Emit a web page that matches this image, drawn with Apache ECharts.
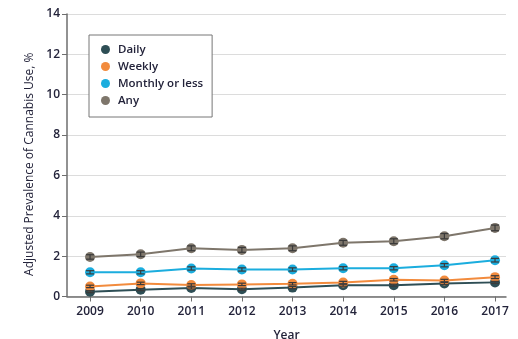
<!DOCTYPE html>
<html>
<head>
<meta charset="utf-8">
<script src="https://cdn.jsdelivr.net/npm/echarts@6/dist/echarts.min.js"></script>
<style>
  html, body { margin: 0; padding: 0; background: #fff; }
  #chart { width: 518px; height: 339px; }
</style>
</head>
<body>
<div id="chart"></div>
<script>
// Survey years
const years = [2009, 2010, 2011, 2012, 2013, 2014, 2015, 2016, 2017];

// Adjusted prevalence of cannabis use, %
const daily   = [0.24, 0.34, 0.42, 0.36, 0.44, 0.56, 0.56, 0.65, 0.70];
const weekly  = [0.50, 0.65, 0.57, 0.60, 0.63, 0.69, 0.83, 0.79, 0.96];
const monthly = [1.20, 1.20, 1.39, 1.34, 1.34, 1.40, 1.40, 1.55, 1.80];
const anyUse  = [1.96, 2.09, 2.39, 2.31, 2.39, 2.66, 2.74, 2.99, 3.40];

// Half-width of the 95% CI for each point
const dailyErr   = [0.05, 0.05, 0.05, 0.05, 0.05, 0.05, 0.05, 0.05, 0.05];
const weeklyErr  = [0.06, 0.06, 0.06, 0.06, 0.06, 0.06, 0.06, 0.06, 0.07];
const monthlyErr = [0.08, 0.08, 0.08, 0.08, 0.08, 0.08, 0.08, 0.08, 0.09];
const anyErr     = [0.11, 0.11, 0.12, 0.12, 0.12, 0.12, 0.12, 0.13, 0.14];

const yTicks = [0, 2, 4, 6, 8, 10, 12, 14];

const seriesDefs = [
  { name: 'Daily',             values: daily,   err: dailyErr,   color: '#2e4e55' },
  { name: 'Weekly',            values: weekly,  err: weeklyErr,  color: '#f28b3d' },
  { name: 'Monthly or less',   values: monthly, err: monthlyErr, color: '#1badde' },
  { name: 'Any',               values: anyUse,  err: anyErr,     color: '#7e766b' }
];

const textColor = '#23233a';
const font = '"Open Sans", sans-serif';

const series = [];
seriesDefs.forEach(function (s) {
  series.push({
    name: s.name,
    type: 'line',
    data: years.map(function (y, i) { return [y, s.values[i]]; }),
    symbol: 'circle',
    symbolSize: 10,
    itemStyle: { color: s.color },
    lineStyle: { color: s.color, width: 2 },
    z: 3
  });
  // whiskers for the confidence interval
  series.push({
    name: s.name + ' CI',
    type: 'custom',
    data: years.map(function (y, i) { return [y, s.values[i] - s.err[i], s.values[i] + s.err[i]]; }),
    renderItem: function (params, api) {
      const lo = api.coord([api.value(0), api.value(1)]);
      const hi = api.coord([api.value(0), api.value(2)]);
      const w = 4;
      const st = { stroke: '#3a3a3a', lineWidth: 1.2 };
      return {
        type: 'group',
        children: [
          { type: 'line', shape: { x1: lo[0], y1: lo[1], x2: hi[0], y2: hi[1] }, style: st },
          { type: 'line', shape: { x1: lo[0] - w, y1: lo[1], x2: lo[0] + w, y2: lo[1] }, style: st },
          { type: 'line', shape: { x1: hi[0] - w, y1: hi[1], x2: hi[0] + w, y2: hi[1] }, style: st }
        ]
      };
    },
    silent: true,
    z: 4
  });
});

const chart = echarts.init(document.getElementById('chart'), null, { renderer: 'canvas' });
chart.setOption({
  animation: false,
  backgroundColor: '#fff',
  grid: { left: 67, right: 12, top: 14, bottom: 42.5, outerBoundsMode: 'none', containLabel: false },
  legend: {
    data: seriesDefs.map(function (s) { return s.name; }),
    orient: 'vertical',
    left: 89,
    top: 35,
    icon: 'circle',
    itemWidth: 9,
    itemHeight: 9,
    itemGap: 4,
    padding: [8, 9, 10, 12],
    backgroundColor: '#fff',
    borderColor: '#777',
    borderWidth: 1,
    textStyle: { color: textColor, fontFamily: font, fontSize: 11.5, fontWeight: 600, lineHeight: 13,
                 padding: [0, 0, 0, 3] }
  },
  xAxis: {
    type: 'value',
    min: 2008.545,
    max: 2017.217,
    name: 'Year',
    nameLocation: 'middle',
    nameGap: 33,
    nameTextStyle: { color: textColor, fontFamily: font, fontSize: 12, fontWeight: 600 },
    axisLine: { show: true, onZero: false, lineStyle: { color: '#6e6e6e', width: 1.5 } },
    axisTick: { show: true, length: 5, customValues: years, lineStyle: { color: '#6e6e6e' } },
    axisLabel: { customValues: years, color: textColor, fontFamily: font, fontSize: 12, fontWeight: 600, margin: 9,
                 formatter: function (v) { return String(v); } },
    splitLine: { show: false }
  },
  yAxis: {
    type: 'value',
    min: 0,
    max: 14,
    interval: 2,
    name: 'Adjusted Prevalence of Cannabis Use, %',
    nameLocation: 'middle',
    nameGap: 25,
    nameTextStyle: { color: textColor, fontFamily: font, fontSize: 12, padding: [0, 18, 0, 0] },
    axisLine: { show: true, lineStyle: { color: '#6e6e6e', width: 1.5 } },
    axisTick: { show: true, length: 5, lineStyle: { color: '#6e6e6e' } },
    axisLabel: { color: textColor, fontFamily: font, fontSize: 12, fontWeight: 600, margin: 7,
                 customValues: yTicks },
    splitLine: { show: true, lineStyle: { color: '#dcdcdc', width: 1 } }
  },
  series: series
});
</script>
</body>
</html>
